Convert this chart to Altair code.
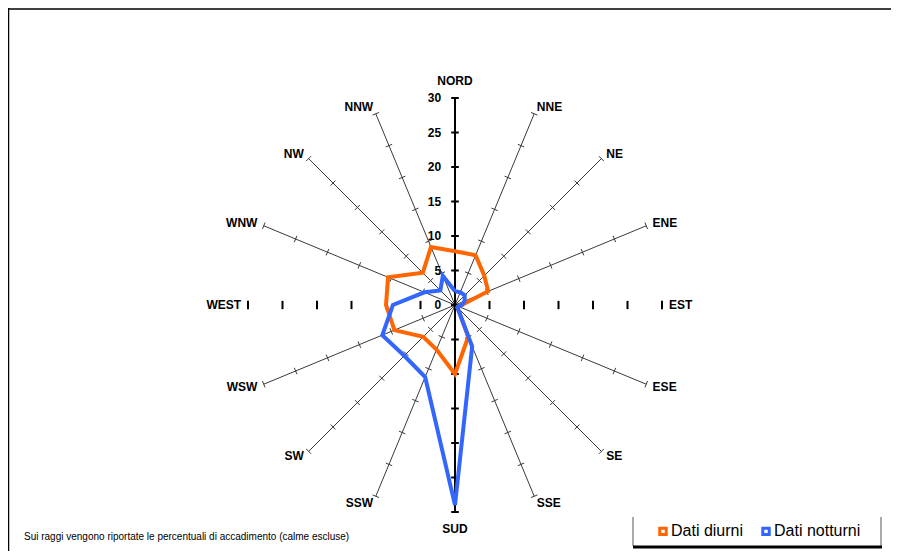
import math
import altair as alt
import pandas as pd

# ---------------- data ----------------
directions = ["NORD", "NNE", "NE", "ENE", "EST", "ESE", "SE", "SSE",
              "SUD", "SSW", "SW", "WSW", "WEST", "WNW", "NW", "NNW"]
diurni = [7.8, 7.8, 6.0, 5.2, 1.0, 0.5, 0.5, 5.0,
          10.0, 7.0, 6.5, 9.5, 10.0, 10.5, 6.6, 9.1]
notturni = [2.0, 2.0, 2.0, 1.5, 1.0, 0.5, 0.5, 6.5,
            29.0, 11.3, 10.4, 11.4, 9.0, 4.8, 3.0, 4.6]
scale_ticks = [5, 10, 15, 20, 25, 30]
scale_labels = ["0", "5", "10", "15", "20", "25", "30"]
series_names = ["Dati diurni", "Dati notturni"]
series_colors = ["#FF6600", "#3366FF"]
footnote = "Sui raggi vengono riportate le percentuali di accadimento (calme escluse)"

# ---------------- geometry ----------------
W, H = 883, 543
CX, CY = 447, 297
K = 6.9
xdom = [-CX / K, (W - CX) / K]
ydom = [-(H - CY) / K, CY / K]
FONT = "Liberation Sans"


def ang(i):
    return math.radians(i * 22.5)


xs = alt.Scale(domain=xdom, nice=False, zero=False)
ys = alt.Scale(domain=ydom, nice=False, zero=False)
X = lambda f: alt.X(f, type="quantitative", scale=xs, axis=None)
Y = lambda f: alt.Y(f, type="quantitative", scale=ys, axis=None)

# series polygons
rows = []
for name, vals in zip(series_names, [diurni, notturni]):
    for j in range(len(directions) + 1):
        i = j % len(directions)
        r = vals[i]
        rows.append(dict(series=name, order=j,
                         x=r * math.sin(ang(i)), y=r * math.cos(ang(i))))
series_df = pd.DataFrame(rows)

rmax = max(scale_ticks)
# oblique spokes
spoke_rows, stick_rows = [], []
for i in range(len(directions)):
    if i % 4 == 0:
        continue
    s, c = math.sin(ang(i)), math.cos(ang(i))
    spoke_rows.append(dict(x=0, y=0, x2=rmax * s, y2=rmax * c))
    h = 0.5
    for r in scale_ticks:
        px, py = r * s, r * c
        stick_rows.append(dict(x=px - h * c, y=py + h * s, x2=px + h * c, y2=py - h * s))
spoke_df = pd.DataFrame(spoke_rows)
stick_df = pd.DataFrame(stick_rows)

# vertical value axis
vaxis_df = pd.DataFrame([dict(x=0, y=-rmax, x2=0, y2=rmax)])
vt = [0] + scale_ticks
vtick_df = pd.DataFrame([dict(x=-0.55, x2=0.55, y=sg * v, y2=sg * v)
                         for v in vt for sg in (1, -1)])
htick_df = pd.DataFrame([dict(x=sg * v, x2=sg * v, y=-0.6, y2=0.6)
                         for v in scale_ticks for sg in (1, -1)])
vlab_df = pd.DataFrame([dict(x=-2.0, y=v, t=t) for v, t in zip(vt, scale_labels)])

# direction labels
lab_rows = []
for i, d in enumerate(directions):
    s, c = math.sin(ang(i)), math.cos(ang(i))
    if abs(s) < 0.1:
        side, r = "center", 32.4
    elif s > 0:
        side, r = "left", 31.0
    else:
        side, r = "right", 31.0
    lab_rows.append(dict(label=d, x=r * s, y=r * c, side=side))
lab_df = pd.DataFrame(lab_rows)

layers = []

# frame
layers.append(alt.Chart(pd.DataFrame({"a": [0]})).mark_rule(color="black", strokeWidth=1.5).encode(
    x=alt.value(0), x2=alt.value(W), y=alt.value(1)))
layers.append(alt.Chart(pd.DataFrame({"a": [0]})).mark_rule(color="black", strokeWidth=1.5).encode(
    x=alt.value(0.5), y=alt.value(0), y2=alt.value(H)))

layers.append(alt.Chart(spoke_df).mark_rule(color="#3a3a3a", strokeWidth=1).encode(
    x=X("x"), y=Y("y"), x2="x2", y2="y2"))
layers.append(alt.Chart(stick_df).mark_rule(color="#3a3a3a", strokeWidth=1).encode(
    x=X("x"), y=Y("y"), x2="x2", y2="y2"))
layers.append(alt.Chart(vaxis_df).mark_rule(color="black", strokeWidth=2).encode(
    x=X("x"), y=Y("y"), x2="x2", y2="y2"))
layers.append(alt.Chart(vtick_df).mark_rule(color="black", strokeWidth=2).encode(
    x=X("x"), y=Y("y"), x2="x2", y2="y2"))
layers.append(alt.Chart(htick_df).mark_rule(color="black", strokeWidth=2).encode(
    x=X("x"), y=Y("y"), x2="x2", y2="y2"))
layers.append(alt.Chart(vlab_df).mark_text(align="right", baseline="middle", font=FONT,
                                           fontWeight="bold", fontSize=12, color="black").encode(
    x=X("x"), y=Y("y"), text="t:N"))

for side in ["left", "center", "right"]:
    layers.append(alt.Chart(lab_df[lab_df.side == side]).mark_text(
        align=side, baseline="middle", font=FONT, fontWeight="bold", fontSize=12, color="black").encode(
        x=X("x"), y=Y("y"), text="label:N"))

layers.append(alt.Chart(series_df).mark_line(strokeWidth=4, strokeJoin="miter", strokeMiterLimit=3).encode(
    x=X("x"), y=Y("y"), order="order:Q",
    color=alt.Color("series:N", scale=alt.Scale(domain=series_names, range=series_colors),
                    legend=alt.Legend(orient="none", legendX=647, legendY=515, direction="horizontal",
                                      title=None, symbolType="square", symbolSize=42,
                                      symbolStrokeWidth=3, symbolFillColor="white",
                                      labelFontSize=16, labelFont=FONT, labelColor="black",
                                      columnPadding=12, labelOffset=0, padding=0))))

# legend box
one = pd.DataFrame({"a": [0]})
layers.append(alt.Chart(one).mark_rule(color="#555555", strokeWidth=1).encode(
    x=alt.value(625), y=alt.value(509), y2=alt.value(538)))
layers.append(alt.Chart(one).mark_rule(color="#555555", strokeWidth=1).encode(
    x=alt.value(873), y=alt.value(509), y2=alt.value(538)))
layers.append(alt.Chart(one).mark_rule(color="black", strokeWidth=3).encode(
    x=alt.value(625), x2=alt.value(874), y=alt.value(539)))

layers.append(alt.Chart(pd.DataFrame({"t": [footnote]})).mark_text(
    align="left", baseline="middle", font=FONT, fontSize=10, color="black").encode(
    x=alt.value(16), y=alt.value(529), text="t:N"))

chart = alt.layer(*layers).properties(
    width=W, height=H, autosize=alt.AutoSizeParams(type="none"), padding=0
).configure_view(stroke=None)

chart.save("out.html", embed_options={"renderer": "svg", "actions": False})
